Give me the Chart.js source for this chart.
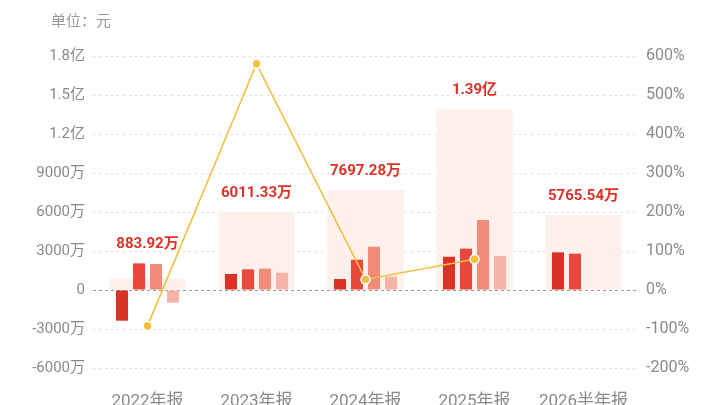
<!DOCTYPE html>
<html>
<head>
<meta charset="utf-8">
<script src="https://cdn.jsdelivr.net/npm/chart.js@4.4.1/dist/chart.umd.min.js"></script>
<style>
html,body{margin:0;padding:0;background:#fff;}
#wrap{width:720px;height:405px;position:relative;}
</style>
</head>
<body>
<div id="wrap"><canvas id="c" width="720" height="405"></canvas></div>
<script>
// Data (amounts in 万元, growth in %)
const categories = ['2022年报', '2023年报', '2024年报', '2025年报', '2026半年报'];
const totals = [883.92, 6011.33, 7697.28, 13900, 5765.54];
const series1 = [-2360, 1230, 846, 2560, 2900];
const series2 = [2050, 1590, 2330, 3180, 2795];
const series3 = [2000, 1640, 3330, 5385, null];
const series4 = [-975, 1330, 1025, 2615, null];
const growth = [-92, 580, 27, 79, null];
const leftTicks = [-6000, -3000, 0, 3000, 6000, 9000, 12000, 15000, 18000];
const rightTicks = [-200, -100, 0, 100, 200, 300, 400, 500, 600];

const FONT = "Roboto, 'Noto Sans CJK SC', sans-serif";

function fmtAmount(v) {
  if (v === 0) return '0';
  if (Math.abs(v) >= 10000) return (v / 10000).toFixed(1) + '亿';
  return v + '万';
}
function fmtLabel(v) {
  if (Math.abs(v) >= 10000) return (v / 10000).toFixed(2) + '亿';
  return v.toFixed(2) + '万';
}

const unitPlugin = {
  id: 'unitText',
  afterDraw(chart) {
    const ctx = chart.ctx;
    ctx.save();
    ctx.font = "15px " + FONT;
    ctx.fillStyle = '#9a9a9a';
    ctx.textAlign = 'left';
    ctx.textBaseline = 'middle';
    ctx.fillText('单位：元', 51, 22);
    ctx.restore();
  }
};

const valueLabelPlugin = {
  id: 'valueLabels',
  afterDatasetsDraw(chart) {
    const ctx = chart.ctx;
    const y = chart.scales.y;
    const x = chart.scales.x;
    ctx.save();
    ctx.font = "bold 15px " + FONT;
    ctx.fillStyle = '#de3226';
    ctx.textAlign = 'center';
    ctx.textBaseline = 'middle';
    categories.forEach((c, i) => {
      const vals = [totals[i], series1[i], series2[i], series3[i], series4[i]].filter(v => v !== null);
      const top = Math.max.apply(null, vals.concat([0]));
      const py = y.getPixelForValue(top);
      ctx.fillText(fmtLabel(totals[i]), x.getPixelForValue(i), py - 19);
    });
    ctx.restore();
  }
};

const gridColor = (ctx) => (ctx.tick && ctx.tick.value === 0) ? '#9a9a9a' : '#dcdcdc';

new Chart(document.getElementById('c'), {
  data: {
    labels: categories,
    datasets: [
      {
        type: 'line', data: growth, yAxisID: 'y1', order: 0,
        borderColor: '#f1c040', borderWidth: 1.6, backgroundColor: '#f1c040',
        pointRadius: 4.5, pointBorderColor: '#ffffff', pointBorderWidth: 1.5,
        pointBackgroundColor: '#f1c040', spanGaps: false, tension: 0
      },
      { type: 'bar', data: series1, yAxisID: 'y', order: 1, backgroundColor: '#da3326', categoryPercentage: 0.624, barPercentage: 0.71 },
      { type: 'bar', data: series2, yAxisID: 'y', order: 1, backgroundColor: '#e8493c', categoryPercentage: 0.624, barPercentage: 0.71 },
      { type: 'bar', data: series3, yAxisID: 'y', order: 1, backgroundColor: '#f18b7a', categoryPercentage: 0.624, barPercentage: 0.71 },
      { type: 'bar', data: series4, yAxisID: 'y', order: 1, backgroundColor: '#f8b3a9', categoryPercentage: 0.624, barPercentage: 0.71 },
      { type: 'bar', data: totals, yAxisID: 'y', order: 2, grouped: false, backgroundColor: '#fdf0ed', categoryPercentage: 0.7, barPercentage: 1.0 }
    ]
  },
  options: {
    responsive: false,
    animation: false,
    devicePixelRatio: 1,
    layout: { padding: { top: 56, left: 0, right: 0, bottom: 0 } },
    plugins: { legend: { display: false }, tooltip: { enabled: false } },
    scales: {
      x: {
        type: 'category', offset: true,
        grid: { display: false, drawTicks: false },
        border: { display: false },
        ticks: { color: '#8a8a8a', font: { family: FONT, size: 17 }, padding: 24, maxRotation: 0, autoSkip: false },
        afterFit(s) { s.height = 37; }
      },
      y: {
        position: 'left', min: -6000, max: 18000,
        afterBuildTicks(s) { s.ticks = leftTicks.map(v => ({ value: v })); },
        ticks: { color: '#8a8a8a', font: { family: FONT, size: 15 }, padding: 8, callback: (v) => fmtAmount(v) },
        grid: { color: gridColor, lineWidth: 1, drawTicks: false },
        border: { display: false, dash: (ctx) => (ctx.tick && ctx.tick.value === 0) ? [3, 3] : [2, 4] },
        afterFit(s) { s.width = 93; }
      },
      y1: {
        position: 'right', min: -200, max: 600,
        afterBuildTicks(s) { s.ticks = rightTicks.map(v => ({ value: v })); },
        ticks: { color: '#8a8a8a', font: { family: FONT, size: 16 }, padding: 8, callback: (v) => v + '%' },
        grid: { display: false, drawTicks: false },
        border: { display: false },
        afterFit(s) { s.width = 82; }
      }
    }
  },
  plugins: [unitPlugin, valueLabelPlugin]
});
</script>
</body>
</html>
